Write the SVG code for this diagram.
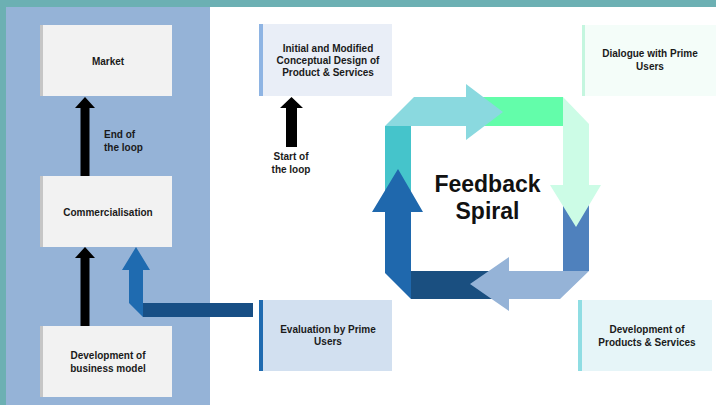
<svg xmlns="http://www.w3.org/2000/svg" width="716" height="405" viewBox="0 0 716 405">
<style>
.t{font-family:"Liberation Sans",Arial,sans-serif;font-weight:bold;font-size:10px;fill:#1a1a1a;text-anchor:middle}
.tl{font-family:"Liberation Sans",Arial,sans-serif;font-weight:bold;font-size:10px;fill:#1a1a1a}
.big{font-family:"Liberation Sans",Arial,sans-serif;font-weight:bold;font-size:23px;fill:#111;text-anchor:middle}
.gbox{fill:#f2f2f2}
.gstrip{fill:#c6c6c6}
</style>
<rect x="0" y="0" width="716" height="405" fill="#6cb0b3"/>
<rect x="6" y="7" width="204" height="398" fill="#95b3d7"/>
<rect x="210" y="7" width="506" height="398" fill="#ffffff"/>

<g id="market">
<rect class="gbox" x="40" y="25" width="132" height="71"/>
<rect class="gstrip" x="40" y="25" width="3" height="71"/>
<text class="t" x="108" y="65">Market</text>
</g>
<g id="commercialisation">
<rect class="gbox" x="40" y="176" width="132" height="71"/>
<rect class="gstrip" x="40" y="176" width="3" height="71"/>
<text class="t" x="108" y="216">Commercialisation</text>
</g>
<g id="business-model">
<rect class="gbox" x="40" y="326" width="132" height="71"/>
<rect class="gstrip" x="40" y="326" width="3" height="71"/>
<text class="t" x="108" y="359">Development of</text>
<text class="t" x="108" y="372">business model</text>
</g>
<g id="initial-design">
<rect x="259" y="24" width="133" height="72" fill="#e9eef7"/>
<rect x="259" y="24" width="4" height="72" fill="#8eb4e3"/>
<text class="t" x="328" y="52">Initial and Modified</text>
<text class="t" x="328" y="64">Conceptual Design of</text>
<text class="t" x="328" y="76">Product &amp; Services</text>
</g>
<g id="dialogue">
<rect x="582" y="25" width="134" height="71" fill="#f4fdf9"/>
<rect x="582" y="25" width="3" height="71" fill="#c4f6df"/>
<text class="t" x="650" y="57">Dialogue with Prime</text>
<text class="t" x="650" y="70">Users</text>
</g>
<g id="evaluation">
<rect x="259" y="300" width="133" height="71" fill="#d2e0f0"/>
<rect x="259" y="300" width="4" height="71" fill="#1f6bb0"/>
<text class="t" x="328" y="333">Evaluation by Prime</text>
<text class="t" x="328" y="345">Users</text>
</g>
<g id="development-products">
<rect x="578" y="300" width="134" height="71" fill="#e6f5f8"/>
<rect x="578" y="300" width="4" height="71" fill="#8fdde3"/>
<text class="t" x="647" y="333">Development of</text>
<text class="t" x="647" y="346">Products &amp; Services</text>
</g>

<g id="connectors">
<polygon points="85,97 95,108 89.5,108 89.5,176 80.5,176 80.5,108 75,108" fill="#000"/>
<polygon points="85,247 95,258 89.5,258 89.5,326 80.5,326 80.5,258 75,258" fill="#000"/>
<polygon points="291.5,97 303,108 297,108 297,147 286,147 286,108 280,108" fill="#000"/>
<polygon points="143,303 253,303 253,317 143,317" fill="#184f85"/>
<polygon points="136,247 150,270 143,270 143,317 129,303 129,270 122,270" fill="#1f6bb0"/>
</g>
<text class="tl" x="104" y="138">End of</text>
<text class="tl" x="104" y="151">the loop</text>
<text class="t" x="291" y="160">Start of</text>
<text class="t" x="291" y="173">the loop</text>

<g id="feedback-spiral">
<rect x="470" y="97" width="93" height="29" fill="#63fdaa"/>
<rect x="385" y="126" width="26" height="75" fill="#45c4cb"/>
<rect x="563" y="185" width="26" height="86" fill="#4f81bd"/>
<rect x="411" y="271" width="84" height="28" fill="#1a4f80"/>
<polygon points="385,126 414,97 466,97 466,84 503,112 466,140 466,126" fill="#8ad9df"/>
<polygon points="563,97 589,124 589,185 601,185 576,227 550,185 563,185" fill="#ccfce6"/>
<polygon points="589,271 560,299 509,299 509,311 470,284 509,257 509,271" fill="#95b3d7"/>
<polygon points="411,299 385,273 385,212 372,212 398,169 423,212 411,212" fill="#1f68ad"/>
<text class="big" x="487.5" y="192">Feedback</text>
<text class="big" x="487.5" y="219">Spiral</text>
</g>
</svg>
